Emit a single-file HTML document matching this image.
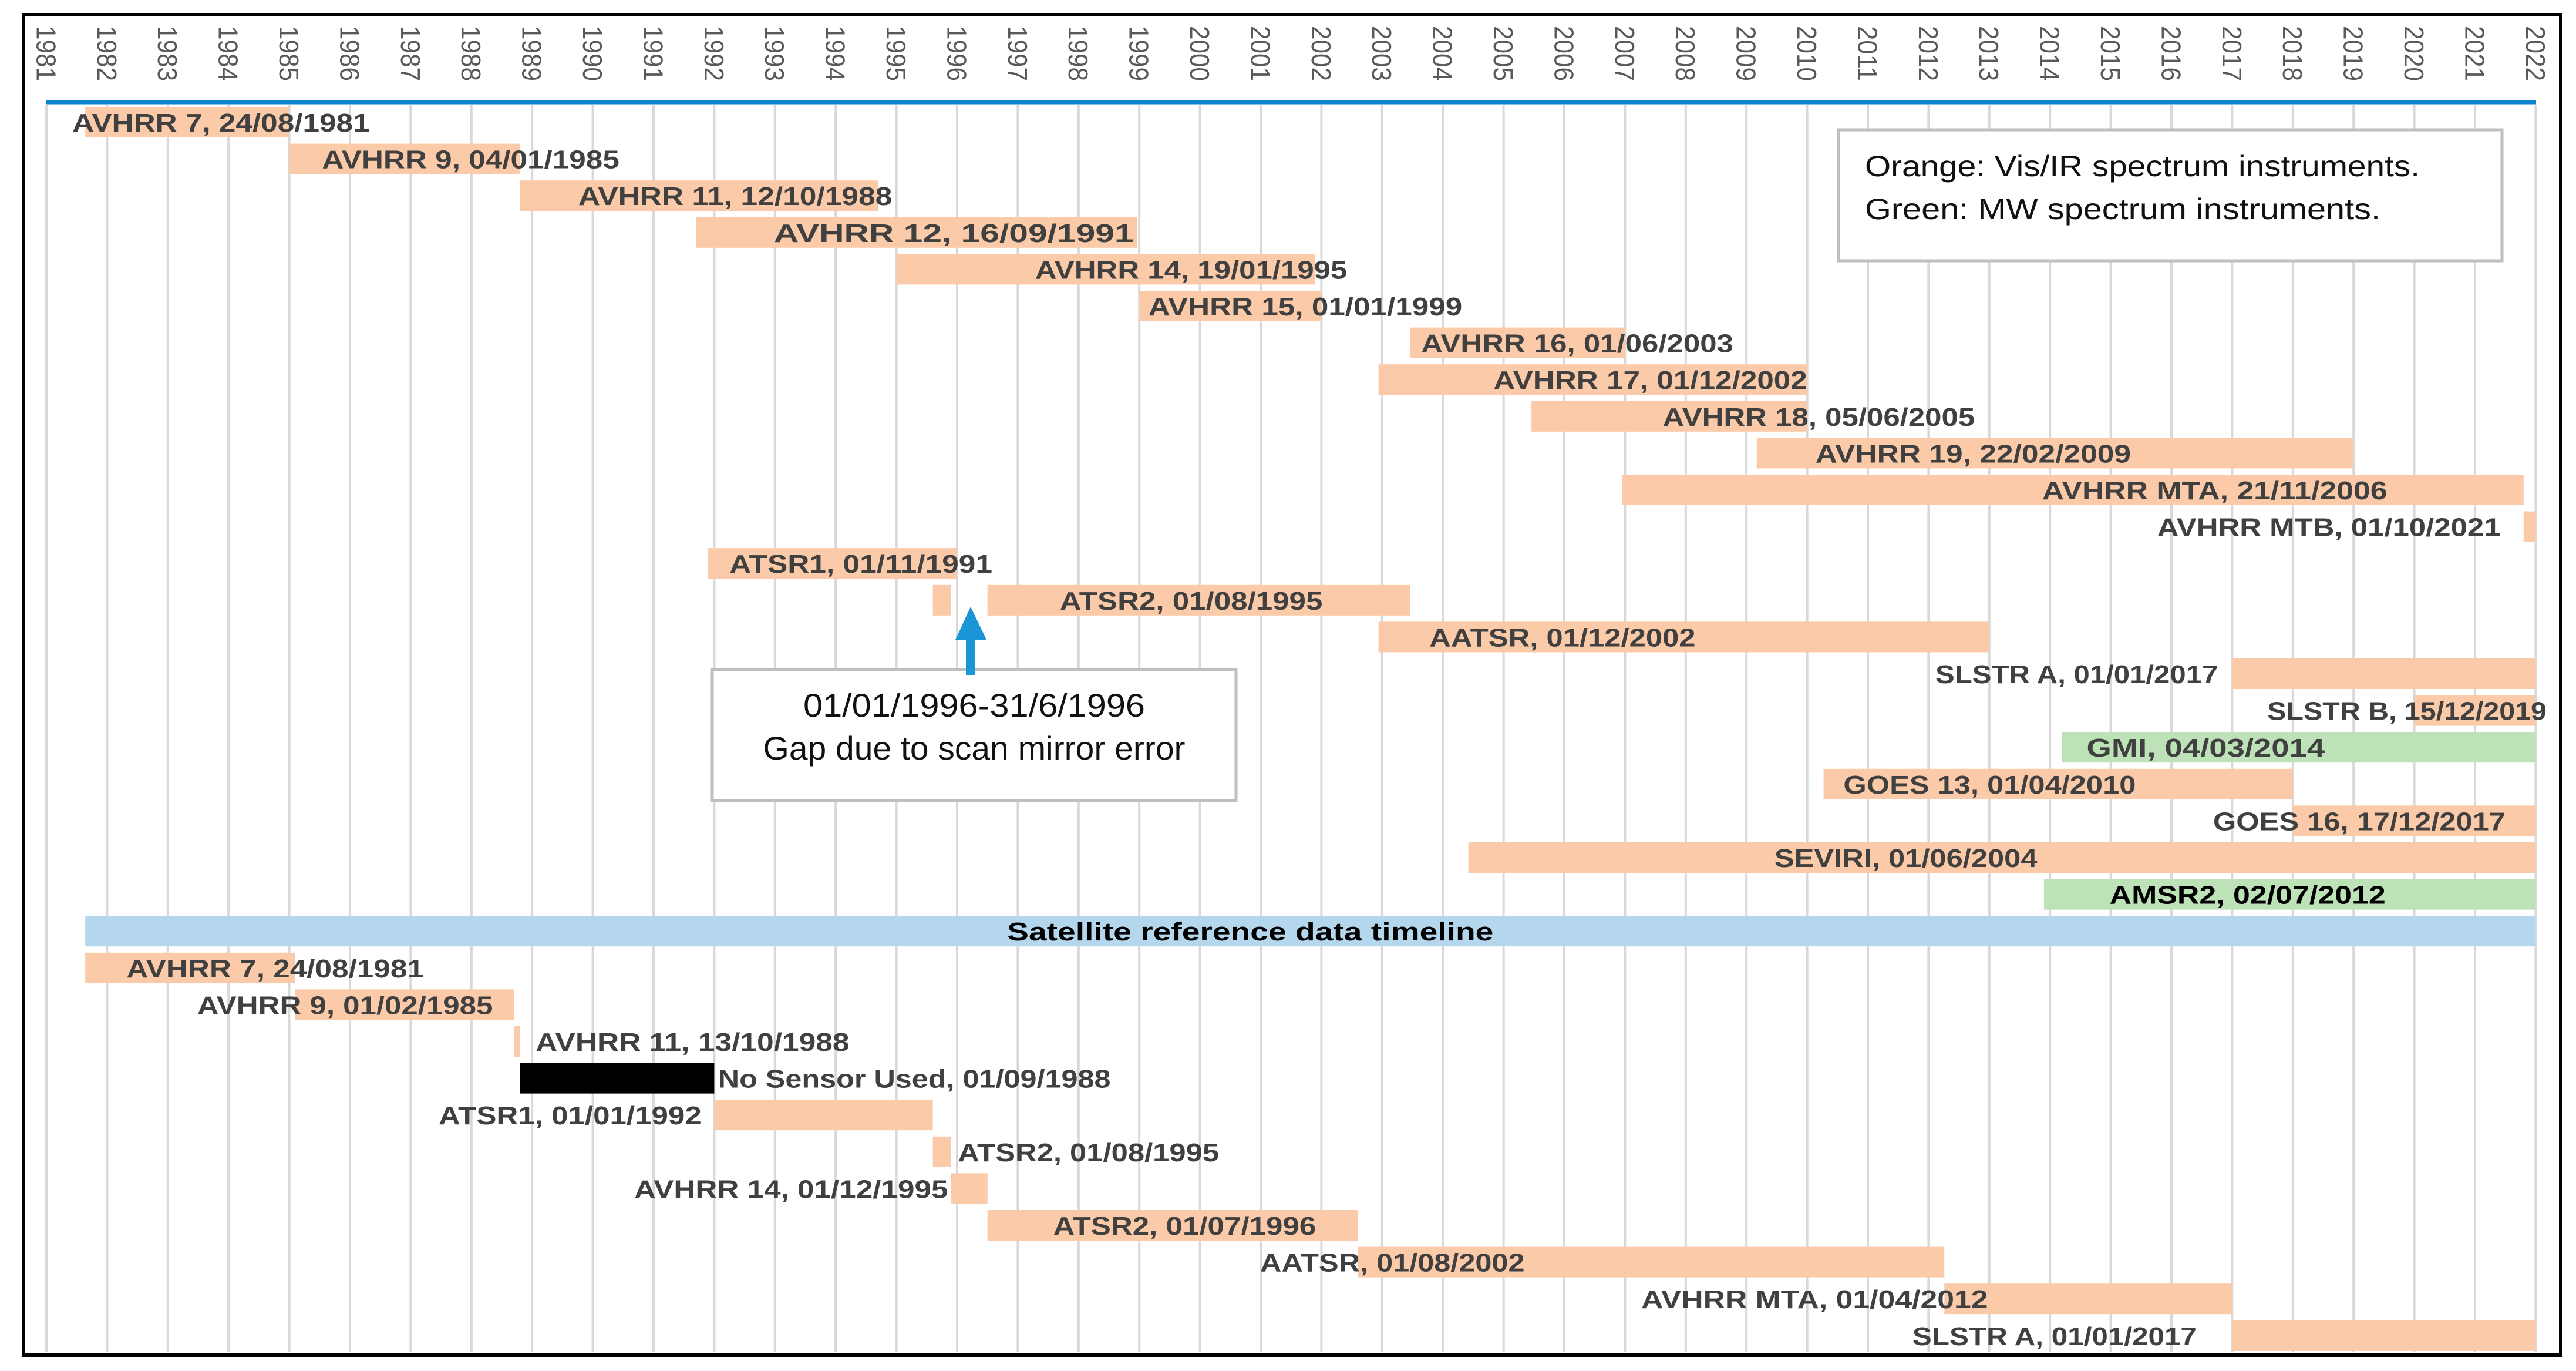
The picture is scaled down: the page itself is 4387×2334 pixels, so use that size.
<!DOCTYPE html>
<html><head><meta charset="utf-8">
<style>
html,body{margin:0;padding:0;background:#fff;}
svg{display:block;}
text{font-family:"Liberation Sans Narrow","Liberation Sans",sans-serif;}
</style></head>
<body>
<svg id="chart" xmlns="http://www.w3.org/2000/svg" width="4387" height="2334" viewBox="0 0 4387 2334">
<rect x="0" y="0" width="4387" height="2334" fill="#fff"/>
<g id="grid"></g>
<g id="ticks"></g>
<line x1="79" y1="174" x2="4319" y2="174" stroke="#0b84d0" stroke-width="7"/>
<g id="bars"></g>
<g id="labels"></g>
<g>
<rect x="3131" y="221" width="1130" height="223" fill="#fff" stroke="#bfbfbf" stroke-width="5"/>
<text x="3176" y="300" font-size="50" fill="#111" textLength="945" lengthAdjust="spacingAndGlyphs">Orange: Vis/IR spectrum instruments.</text>
<text x="3176" y="373" font-size="50" fill="#111" textLength="878" lengthAdjust="spacingAndGlyphs">Green: MW spectrum instruments.</text>
</g>
<g>
<rect x="1213" y="1140" width="892" height="223" fill="#fff" stroke="#bfbfbf" stroke-width="5"/>
<text x="1659" y="1220" font-size="56" fill="#111" text-anchor="middle" textLength="582" lengthAdjust="spacingAndGlyphs">01/01/1996-31/6/1996</text>
<text x="1659" y="1293" font-size="56" fill="#111" text-anchor="middle" textLength="719" lengthAdjust="spacingAndGlyphs">Gap due to scan mirror error</text>
<rect x="1645" y="1085" width="16" height="64" fill="#1a96d6"/>
<polygon points="1653,1033 1627,1089 1680,1089" fill="#1a96d6"/>
</g>
<rect x="40" y="25" width="4321" height="2282" fill="none" stroke="#000" stroke-width="6"/>
</svg>
<script>
const years = [1981,1982,1983,1984,1985,1986,1987,1988,1989,1990,1991,1992,1993,1994,1995,1996,1997,1998,1999,2000,2001,2002,2003,2004,2005,2006,2007,2008,2009,2010,2011,2012,2013,2014,2015,2016,2017,2018,2019,2020,2021,2022];
const rowLabels = ["AVHRR 7, 24/08/1981","AVHRR 9, 04/01/1985","AVHRR 11, 12/10/1988","AVHRR 12, 16/09/1991","AVHRR 14, 19/01/1995","AVHRR 15, 01/01/1999","AVHRR 16, 01/06/2003","AVHRR 17, 01/12/2002","AVHRR 18, 05/06/2005","AVHRR 19, 22/02/2009","AVHRR MTA, 21/11/2006","AVHRR MTB, 01/10/2021","ATSR1, 01/11/1991","ATSR2, 01/08/1995","AATSR, 01/12/2002","SLSTR A, 01/01/2017","SLSTR B, 15/12/2019","GMI, 04/03/2014","GOES 13, 01/04/2010","GOES 16, 17/12/2017","SEVIRI, 01/06/2004","AMSR2, 02/07/2012","Satellite reference data timeline","AVHRR 7, 24/08/1981","AVHRR 9, 01/02/1985","AVHRR 11, 13/10/1988","No Sensor Used, 01/09/1988","ATSR1, 01/01/1992","ATSR2, 01/08/1995","AVHRR 14, 01/12/1995","ATSR2, 01/07/1996","AATSR, 01/08/2002","AVHRR MTA, 01/04/2012","SLSTR A, 01/01/2017"];
const barRows   = [0,1,2,3,4,5,6,7,8,9,10,11,12,13,13,14,15,16,17,18,19,20,21,22,23,24,25,26,27,28,29,30,31,32,33];
const barStarts = [1981.64,1985.0,1988.8,1991.7,1995.0,1999.0,2003.46,2002.94,2005.46,2009.17,2006.95,2021.8,1991.9,1995.6,1996.5,2002.94,2017.0,2020.0,2014.2,2010.27,2018.0,2004.42,2013.9,1981.64,1981.64,1985.1,1988.7,1988.8,1992.0,1995.6,1995.9,1996.5,2002.6,2012.26,2017.0];
const barEnds   = [1985.0,1988.8,1994.7,1998.97,2001.9,2002.0,2007.0,2010.0,2010.0,2019.0,2021.8,2022.0,1996.0,1995.9,2003.46,2013.0,2022.0,2022.0,2022.0,2018.0,2022.0,2022.0,2022.0,2022.0,1985.1,1988.7,1988.8,1992.0,1995.6,1995.9,1996.5,2002.6,2012.26,2017.0,2022.0];
const barKinds  = ["o","o","o","o","o","o","o","o","o","o","o","o","o","o","o","o","o","o","g","o","o","o","g","b","o","o","o","k","o","o","o","o","o","o","o"];
// label layout (pixel spans, not data)
const labelX0 = [44,196,352,471,630,699,865,909,1012,1105,1243,1313,444,645,870,1178,1380,1270,1122,1347,1080,1284,613,77,120,326,437,267,583,386,641,767,999,1164].map(v=>v*2.798);
const labelX1 = [225,377,543,690,820,890,1055,1100,1202,1297,1453,1522,604,805,1032,1350,1550,1415,1300,1525,1240,1452,909,258,300,517,676,427,742,577,801,928,1210,1337].map(v=>v*2.798);

const NS="http://www.w3.org/2000/svg";
const x0=79, yearW=103.4;
function xScale(y){return x0+(y-1981)*yearW;}
function rowY(r){return 208+r*62.6;}
const colors={o:"#fbcaa8",g:"#bde2b7",b:"#b4d7ee",k:"#000"};
const grid=document.getElementById('grid'), ticks=document.getElementById('ticks');
years.forEach(yr=>{
  const gx=xScale(yr);
  const l=document.createElementNS(NS,'line');
  
  
  l.setAttribute('x1',gx);l.setAttribute('x2',gx);l.setAttribute('y1',178);l.setAttribute('y2',2302);
  l.setAttribute('stroke','#d9d9d9');l.setAttribute('stroke-width','4');
  grid.appendChild(l);
  const t=document.createElementNS(NS,'text');
  
  
  t.setAttribute('transform','translate('+gx+',44) rotate(90)');
  t.setAttribute('dy','0.36em');
  t.setAttribute('font-size','46');t.setAttribute('fill','#595959');
  t.setAttribute('textLength','94');t.setAttribute('lengthAdjust','spacingAndGlyphs');
  t.style.fontFamily='"Liberation Sans",sans-serif';
  t.textContent=yr;
  ticks.appendChild(t);
});
const bars=document.getElementById('bars');
barRows.forEach((r,i)=>{
  const a=xScale(barStarts[i]), b=xScale(barEnds[i]);
  const rc=document.createElementNS(NS,'rect');
  
  
  rc.setAttribute('x',a);rc.setAttribute('width',Math.max(2,b-a));
  rc.setAttribute('y',rowY(r)-26);rc.setAttribute('height',52);
  rc.setAttribute('fill',colors[barKinds[i]]);
  bars.appendChild(rc);
});
const labels=document.getElementById('labels');
rowLabels.forEach((s,r)=>{
  const t=document.createElementNS(NS,'text');
  
  
  t.setAttribute('x',labelX0[r]);t.setAttribute('y',rowY(r)+16);
  t.setAttribute('font-size','44');t.setAttribute('font-weight','bold');
  t.setAttribute('fill',(r===21||r===22)?'#000':'#404040');
  t.setAttribute('textLength',labelX1[r]-labelX0[r]);t.setAttribute('lengthAdjust','spacingAndGlyphs');
  t.textContent=s;
  labels.appendChild(t);
});
</script>
</body></html>
